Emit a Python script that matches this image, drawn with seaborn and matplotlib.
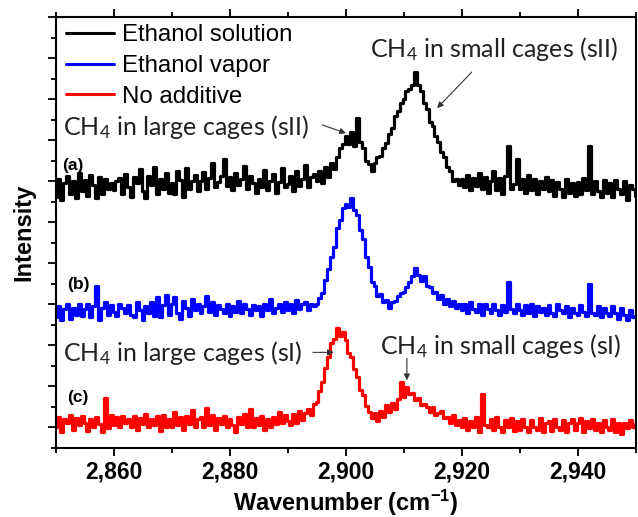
import numpy as np
import pandas as pd
import seaborn as sns
import matplotlib
matplotlib.use("Agg")
import matplotlib.pyplot as plt
from matplotlib.ticker import MultipleLocator, FuncFormatter

# ---- data (arbitrary offset intensity units) ----
wavenumber = np.arange(2850.0, 2950.01, 0.5)

ethanol_solution = [
    5.62, 6.05, 5.55, 5.95, 6.12, 5.68, 6.00, 5.58, 6.20, 5.75,
    6.02, 5.65, 6.15, 5.90, 5.60, 6.10, 5.70, 6.05, 5.80, 5.95,
    5.78, 6.00, 6.08, 5.70, 6.18, 5.85, 5.62, 6.10, 5.95, 6.30,
    5.75, 5.60, 6.12, 5.90, 6.35, 5.70, 6.05, 5.82, 6.20, 5.72,
    5.95, 5.68, 6.25, 6.02, 5.62, 6.32, 5.80, 6.00, 6.15, 5.75,
    6.00, 6.22, 5.80, 6.08, 6.45, 5.85, 5.98, 6.12, 6.55, 5.88,
    6.10, 5.78, 6.20, 5.90, 6.05, 6.38, 5.82, 6.12, 5.95, 5.72,
    6.05, 5.85, 6.28, 5.78, 6.00, 6.18, 5.72, 5.98, 6.32, 5.85,
    5.92, 6.12, 5.75, 6.25, 5.88, 6.05, 6.40, 5.85, 6.10, 6.18,
    6.00, 6.25, 5.95, 6.35, 6.10, 6.45, 6.30, 6.60, 6.80, 6.90,
    7.10, 6.90, 7.20, 6.85, 7.55, 6.95, 6.80, 6.50, 6.42, 6.25,
    6.45, 6.58, 6.62, 6.80, 6.92, 7.15, 7.30, 7.60, 7.70, 7.90,
    8.00, 8.20, 8.25, 8.35, 8.65, 8.35, 8.20, 7.90, 7.75, 7.45,
    7.35, 7.10, 6.95, 6.70, 6.60, 6.35, 6.25, 6.00, 6.05, 5.90,
    6.05, 5.85, 6.15, 5.78, 6.08, 5.88, 6.20, 5.80, 6.10, 5.72,
    6.00, 6.25, 5.78, 6.08, 5.70, 6.12, 6.85, 5.82, 5.92, 6.55,
    5.80, 6.05, 5.72, 6.15, 5.78, 6.05, 5.68, 6.00, 5.80, 6.10,
    5.75, 6.02, 5.65, 5.98, 5.80, 5.62, 6.05, 5.72, 5.95, 5.65,
    5.98, 5.70, 6.08, 5.78, 6.85, 5.68, 6.00, 5.75, 5.62, 6.02,
    5.72, 5.95, 5.62, 6.02, 5.80, 5.70, 6.00, 5.55, 5.90, 5.82,
    5.65,
]

ethanol_vapor = [
    2.70, 2.95, 2.62, 2.88, 3.02, 2.65, 2.92, 2.75, 3.00, 2.72,
    2.88, 3.02, 2.68, 2.95, 3.45, 2.62, 2.92, 3.05, 2.75, 2.98,
    2.82, 2.72, 3.02, 2.90, 2.78, 2.98, 2.75, 2.68, 3.05, 2.85,
    2.62, 2.95, 2.78, 3.05, 2.72, 3.18, 2.68, 2.98, 3.22, 2.75,
    3.00, 3.18, 2.80, 2.65, 3.08, 2.90, 2.72, 3.12, 2.85, 3.00,
    2.78, 2.95, 3.20, 2.82, 3.05, 2.75, 2.98, 2.88, 2.80, 3.02,
    2.72, 2.95, 2.82, 3.08, 2.78, 3.00, 2.88, 2.75, 2.98, 2.85,
    2.95, 2.72, 3.02, 2.85, 3.12, 2.78, 2.92, 3.00, 2.82, 3.05,
    2.85, 3.00, 2.78, 3.10, 2.88, 3.00, 3.05, 2.85, 3.02, 2.95,
    3.00, 3.15, 3.28, 3.60, 3.85, 4.15, 4.40, 4.85, 5.05, 5.35,
    5.45, 5.38, 5.58, 5.30, 5.18, 4.80, 4.58, 4.15, 3.92, 3.55,
    3.45, 3.20, 3.25, 3.05, 3.10, 2.90, 3.05, 3.08, 3.20, 3.28,
    3.30, 3.42, 3.55, 3.68, 3.88, 3.72, 3.58, 3.68, 3.45, 3.42,
    3.28, 3.30, 3.12, 3.22, 3.02, 3.12, 2.95, 3.08, 2.90, 3.02,
    2.85, 3.02, 2.80, 3.05, 2.88, 2.82, 3.00, 2.75, 3.02, 2.88,
    2.80, 3.00, 2.85, 2.75, 2.98, 2.82, 3.55, 2.88, 2.78, 3.00,
    2.85, 2.75, 2.98, 2.80, 3.00, 2.72, 2.95, 2.82, 2.92, 2.75,
    2.98, 2.80, 2.72, 3.00, 2.85, 2.78, 2.95, 2.70, 2.92, 2.80,
    2.75, 2.98, 2.82, 2.72, 3.50, 2.80, 2.75, 2.95, 2.68, 2.92,
    2.78, 2.72, 2.95, 2.80, 2.65, 2.92, 2.75, 2.62, 2.85, 2.70,
    2.72,
]

no_additive = [
    0.00, 0.25, -0.10, 0.20, 0.12, 0.30, -0.05, 0.22, 0.05, 0.28,
    0.10, -0.08, 0.20, 0.02, 0.25, 0.08, -0.12, 0.72, -0.02, 0.30,
    0.05, 0.25, 0.00, 0.28, 0.10, 0.20, 0.02, 0.28, -0.05, 0.22,
    0.08, 0.32, 0.00, 0.20, 0.05, 0.28, -0.08, 0.30, 0.02, 0.20,
    0.00, 0.38, 0.05, 0.25, -0.05, 0.28, 0.08, 0.42, 0.00, 0.20,
    0.25, 0.02, 0.48, 0.05, 0.30, -0.05, 0.22, 0.08, 0.28, 0.00,
    0.20, 0.05, -0.10, 0.25, 0.08, 0.32, 0.02, 0.45, 0.00, 0.22,
    0.05, 0.28, -0.05, 0.20, 0.02, 0.25, 0.08, 0.38, 0.10, 0.30,
    0.15, 0.05, 0.32, 0.12, 0.40, 0.18, 0.35, 0.45, 0.30, 0.58,
    0.62, 0.88, 1.12, 1.45, 1.72, 2.05, 2.15, 2.42, 2.22, 2.32,
    2.12, 1.82, 1.72, 1.42, 1.22, 0.92, 0.78, 0.52, 0.38, 0.22,
    0.35, 0.15, 0.40, 0.25, 0.55, 0.38, 0.60, 0.45, 0.70, 1.12,
    0.75, 0.98, 0.82, 0.85, 0.68, 0.72, 0.55, 0.58, 0.50, 0.38,
    0.50, 0.30, 0.35, 0.40, 0.22, 0.25, 0.10, 0.30, 0.05, 0.18,
    0.00, 0.22, -0.05, 0.15, 0.02, 0.25, -0.10, 0.82, 0.05, 0.00,
    0.20, -0.05, 0.25, 0.02, -0.10, 0.18, 0.00, 0.22, -0.08, 0.15,
    -0.05, 0.20, 0.00, -0.10, 0.18, 0.02, -0.05, 0.22, -0.12, 0.10,
    0.15, -0.08, 0.20, 0.00, -0.05, 0.18, -0.10, 0.12, 0.20, -0.05,
    0.10, 0.22, -0.10, 0.15, -0.02, 0.20, -0.05, 0.12, -0.12, 0.18,
    0.00, -0.05, 0.20, -0.10, 0.12, -0.15, 0.10, -0.02, 0.18, 0.00,
    0.08,
]

series_names = ["Ethanol solution", "Ethanol vapor", "No additive"]
series_colors = ["#000000", "#0000ff", "#ff0000"]
x_ticks = [2860, 2880, 2900, 2920, 2940]

# ---- styling ----
sns.set_theme(style="ticks")
plt.rcParams["font.family"] = ["Liberation Sans", "DejaVu Sans"]
plt.rcParams["mathtext.default"] = "regular"
for key in ("text.color", "axes.labelcolor", "xtick.color", "ytick.color",
            "axes.edgecolor"):
    plt.rcParams[key] = "black"

df = pd.concat([
    pd.DataFrame({"Wavenumber": wavenumber, "Intensity": vals, "Sample": name})
    for name, vals in zip(series_names, [ethanol_solution, ethanol_vapor, no_additive])
])

fig = plt.figure(figsize=(6.38, 5.17), dpi=100)
ax = fig.add_axes([56 / 638, 69 / 517, 580 / 638, 431 / 517])

sns.lineplot(data=df, x="Wavenumber", y="Intensity", hue="Sample",
             hue_order=series_names, palette=series_colors,
             estimator=None, sort=False, lw=2.3, drawstyle="steps-mid", ax=ax)

ax.set_xlim(2850, 2950)
ax.set_ylim(-0.5, 10)
ax.xaxis.set_minor_locator(MultipleLocator(10))
ax.yaxis.set_major_locator(MultipleLocator(1))
ax.yaxis.set_minor_locator(MultipleLocator(0.5))
ax.set_xticks(x_ticks)
ax.xaxis.set_major_formatter(FuncFormatter(lambda v, p: f"{int(v):,}"))
ax.tick_params(axis="x", which="both", direction="out", top=True, bottom=True)
ax.tick_params(axis="y", which="both", direction="out", left=True, right=False,
               labelleft=False)
ax.tick_params(which="major", length=6, width=1.3, labelsize=16.5, pad=3)
ax.tick_params(which="minor", length=3.5, width=1.3)
for lab in ax.get_xticklabels():
    lab.set_fontweight("bold")
for sp in ax.spines.values():
    sp.set_linewidth(1.5)

ax.set_xlabel("Wavenumber (cm$^{-1}$)", fontsize=17, fontweight="bold", labelpad=3)
ax.set_ylabel("Intensity", fontsize=17, fontweight="bold", labelpad=9)

leg = ax.legend(loc="upper left", bbox_to_anchor=(0.0, 1.005), frameon=False,
                fontsize=17.3, handlelength=2.0, handletextpad=0.35,
                labelspacing=0.36, borderaxespad=0.3, borderpad=0.1)
for line in leg.get_lines():
    line.set_linewidth(2.2)

ann_font = dict(family=["Lato", "DejaVu Sans"], fontsize=18, color="#222222")
ax.text(2904.1, 9.02, "CH$_4$ in small cages (sII)", ha="left", va="baseline", **ann_font)
ax.text(2851.2, 7.12, "CH$_4$ in large cages (sII)", ha="left", va="baseline", **ann_font)
ax.text(2851.2, 1.63, "CH$_4$ in large cages (sI)", ha="left", va="baseline", **ann_font)
ax.text(2905.9, 1.80, "CH$_4$ in small cages (sI)", ha="left", va="baseline", **ann_font)

arrow = dict(arrowstyle="-|>", color="#333333", lw=0.8, mutation_scale=9,
             shrinkA=0, shrinkB=0)
ax.annotate("", xy=(2915.7, 7.78), xytext=(2921.7, 8.66), arrowprops=arrow)
ax.annotate("", xy=(2900.0, 7.17), xytext=(2895.9, 7.37), arrowprops=arrow)
ax.annotate("", xy=(2897.9, 1.83), xytext=(2894.3, 1.83), arrowprops=arrow)
ax.annotate("", xy=(2910.5, 1.15), xytext=(2910.5, 1.68), arrowprops=arrow)

panel_font = dict(fontsize=12.5, fontweight="bold", ha="left", va="center")
ax.text(2851.0, 6.39, "(a)", **panel_font)
ax.text(2851.9, 3.49, "(b)", **panel_font)
ax.text(2851.9, 0.73, "(c)", **panel_font)

fig.savefig("out.png", dpi=100)
